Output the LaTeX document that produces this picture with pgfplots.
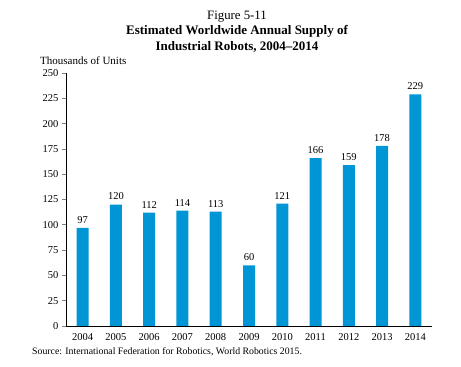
\documentclass[border=0pt]{standalone}
\usepackage{pgfplots}
\pgfplotsset{compat=1.18}
\usepackage{fontspec}
\setmainfont{Liberation Serif}
\definecolor{barblue}{RGB}{0,150,214}
\begin{document}
\begin{tikzpicture}[x=1pt,y=1pt]
\path[use as bounding box] (-66,-41) rectangle (395,326);
\begin{axis}[
  at={(0,0)}, anchor=south west,
  scale only axis, width=366pt, height=253pt,
  xmin=-0.5, xmax=10.5, ymin=0, ymax=250,
  axis lines*=left,
  axis line style={line width=0.8pt},
  xtick={0,...,10},
  xticklabels={2004,2005,2006,2007,2008,2009,2010,2011,2012,2013,2014},
  ytick={0,25,...,250},
  tick align=outside,
  x tick style={draw=none},
  y tick style={line width=0.6pt},
  major tick length=4pt,
  tick label style={font=\fontsize{10.5}{12}\selectfont},
  /pgf/number format/assume math mode=true,
  every node near coord/.append style={font=\fontsize{10.5}{12}\selectfont, yshift=1pt},
  nodes near coords,
  clip=false,
]
\addplot[ybar, bar width=12pt, fill=barblue, draw=none] coordinates {
(0,97) (1,120) (2,112) (3,114) (4,113) (5,60) (6,121) (7,166) (8,159) (9,178) (10,229)
};
\end{axis}
\node[font=\fontsize{12.8}{14}\selectfont] at (171,309) {Figure 5-11};
\node[font=\bfseries\fontsize{13}{15}\selectfont] at (171,295) {Estimated Worldwide Annual Supply of};
\node[font=\bfseries\fontsize{13}{15}\selectfont] at (171,279) {Industrial Robots, 2004\textendash2014};
\node[anchor=west, inner sep=0pt, font=\fontsize{11}{12}\selectfont] at (-26,265) {Thousands of Units};
\node[anchor=west, inner sep=0pt, font=\fontsize{9.8}{11}\selectfont] at (-34,-26) {Source: International Federation for Robotics, World Robotics 2015.};
\end{tikzpicture}
\end{document}
